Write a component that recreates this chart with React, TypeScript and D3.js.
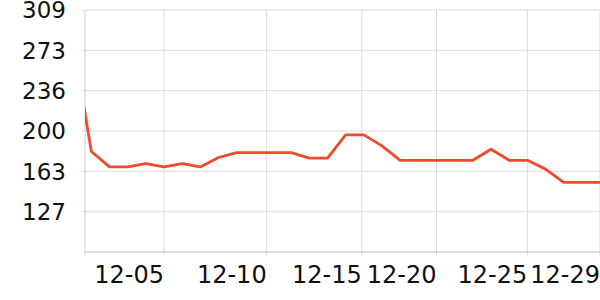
import React from "react";
import * as d3 from "d3";

const dates = [
  "2023-11-30", "2023-12-01", "2023-12-02", "2023-12-03", "2023-12-04", "2023-12-05",
  "2023-12-06", "2023-12-07", "2023-12-08", "2023-12-09", "2023-12-10", "2023-12-11",
  "2023-12-12", "2023-12-13", "2023-12-14", "2023-12-15", "2023-12-16", "2023-12-17",
  "2023-12-18", "2023-12-19", "2023-12-20", "2023-12-21", "2023-12-22", "2023-12-23",
  "2023-12-24", "2023-12-25", "2023-12-26", "2023-12-27", "2023-12-28", "2023-12-29",
];
const values = [
  280, 181, 167, 167, 170, 167,
  170, 167, 175.5, 180, 180, 180,
  180, 175, 175, 196, 196, 186,
  173, 173, 173, 173, 173, 183,
  173, 173, 165, 153, 153, 153,
];
const xDomain = ["2023-11-30 15:36", "2023-12-29 00:00"];
const xTicks = [
  "2023-12-05 00:00", "2023-12-10 15:36", "2023-12-15 21:20",
  "2023-12-20 00:00", "2023-12-25 00:00", "2023-12-29 00:00",
];
const yDomain = [90, 309];
const yTicks = [126.5, 163, 199.5, 236, 272.5, 309];

const W = 600, H = 300;
const M = { left: 85, right: 0, top: 10, bottom: 48 };

export default function App() {
  const parseDay = d3.timeParse("%Y-%m-%d");
  const parseT = d3.timeParse("%Y-%m-%d %H:%M");
  const fmt = d3.timeFormat("%m-%d");
  const x = d3.scaleTime()
    .domain(xDomain.map((s) => parseT(s) as Date))
    .range([M.left, W - M.right]);
  const y = d3.scaleLinear().domain(yDomain).range([H - M.bottom, M.top]);
  const data = dates.map((d, i) => ({ d: parseDay(d) as Date, v: values[i] }));
  const line = d3.line<{ d: Date; v: number }>()
    .x((p) => x(p.d))
    .y((p) => y(p.v));
  const font = "'DejaVu Sans', sans-serif";
  const bottom = H - M.bottom;
  return (
    <svg width={W} height={H} style={{ position: "absolute", left: 0, top: 0 }}>
      <defs>
        <clipPath id="plot">
          <rect x={M.left} y={M.top - 5} width={W - M.left - M.right} height={bottom - M.top + 5} />
        </clipPath>
      </defs>
      {yTicks.map((t) => (
        <g key={"y" + t}>
          <line x1={M.left - 3} x2={W} y1={y(t)} y2={y(t)} stroke="#dcdcdc" strokeWidth={1} />
          <text x={66} y={y(t)} dy="0.36em" textAnchor="end" fontFamily={font} fontSize={23} fill="#111">
            {Math.round(t)}
          </text>
        </g>
      ))}
      {xTicks.map((s) => {
        const t = parseT(s) as Date;
        const xx = x(t);
        return (
          <g key={"x" + s}>
            <line x1={xx} x2={xx} y1={M.top} y2={bottom + 3} stroke="#dcdcdc" strokeWidth={1} />
            <text x={xx} y={bottom + 31} textAnchor="end" fontFamily={font} fontSize={24} fill="#111">
              {fmt(t)}
            </text>
          </g>
        );
      })}
      <line x1={M.left} x2={M.left} y1={M.top} y2={bottom + 3} stroke="#d0d0d0" strokeWidth={1} />
      <line x1={M.left} x2={W} y1={bottom} y2={bottom} stroke="#bdbdbd" strokeWidth={1} />
      <path d={line(data) || ""} fill="none" stroke="#ef4a2c" strokeWidth={2.8} strokeLinejoin="round" clipPath="url(#plot)" />
    </svg>
  );
}
